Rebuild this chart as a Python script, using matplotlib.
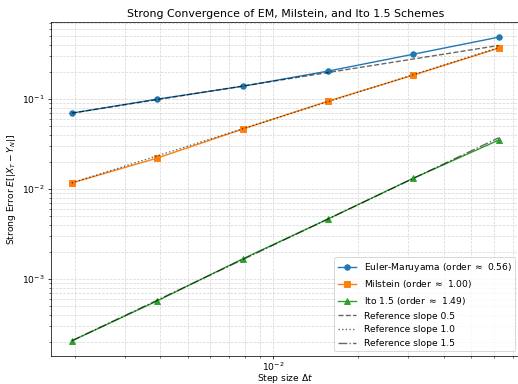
import numpy as np
import matplotlib.pyplot as plt

# step sizes dt = 1/2^k
dts = np.array([1/512, 1/256, 1/128, 1/64, 1/32, 1/16])

err_em = np.array([0.0699, 0.100, 0.139, 0.205, 0.316, 0.489])
err_mil = np.array([0.0117, 0.0221, 0.0464, 0.095, 0.185, 0.369])
err_ito = np.array([0.000205, 0.00057, 0.00167, 0.00464, 0.0132, 0.035])

orders = [0.56, 1.00, 1.49]
ref_slopes = [0.5, 1.0, 1.5]


def main():
    W, H = 518, 384
    dpi = 66
    fig = plt.figure(figsize=(W/dpi, H/dpi), dpi=dpi)
    # axes box in pixels: left 50.5, right 520, top 22, bottom 356
    ax = fig.add_axes([50.5/W, (H-356)/H, (520-50.5)/W, (356-22)/H])

    ax.loglog(dts, err_em, 'o-', label=f"Euler-Maruyama (order $\\approx$ {orders[0]:.2f})")
    ax.loglog(dts, err_mil, 's-', label=f"Milstein (order $\\approx$ {orders[1]:.2f})")
    ax.loglog(dts, err_ito, '^-', label=f"Ito 1.5 (order $\\approx$ {orders[2]:.2f})")

    # reference lines anchored at first point of each scheme
    styles = ['--', ':', '-.']
    for err, p, ls in zip([err_em, err_mil, err_ito], ref_slopes, styles):
        ref = err[0] * (dts / dts[0]) ** p
        ax.loglog(dts, ref, 'k' + ls, alpha=0.6, label=f"Reference slope {p}")

    ax.set_xlabel(r"Step size $\Delta t$", labelpad=-1.2)
    ax.set_ylabel(r"Strong Error $E[|X_T - Y_N|]$")
    ax.set_title("Strong Convergence of EM, Milstein, and Ito 1.5 Schemes", pad=5)
    ax.tick_params(axis='x', which='both', pad=1.5)
    ax.grid(True, which='both', ls='--', alpha=0.5)
    ax.legend(loc='lower right')
    fig.savefig("out.png")


if __name__ == "__main__":
    main()
